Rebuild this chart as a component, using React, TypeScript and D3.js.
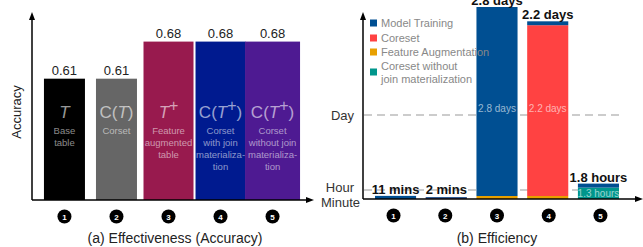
import { useRef, useEffect } from 'react'
import * as d3 from 'd3'

// ---- (a) accuracy ----
const accIds = ['1', '2', '3', '4', '5']
const accValues = [0.61, 0.61, 0.68, 0.68, 0.68]
const accLabels = ['0.61', '0.61', '0.68', '0.68', '0.68']
const accSymbols = ['T', 'C(T)', 'T+', 'C(T+)', 'C(T+)']
const accNotes = [
  ['Base', 'table'],
  ['Corset'],
  ['Feature', 'augmented', 'table'],
  ['Corset', 'with join', 'materializa-', 'tion'],
  ['Corset', 'without join', 'materializa-', 'tion'],
]
const accColors = ['#000000', '#666666', '#981a4e', '#001a8f', '#4e1a92']

// ---- (b) efficiency, minutes ----
const effIds = ['1', '2', '3', '4', '5']
const effKeys = ['fa', 'cwj', 'cs', 'mt']
const effNames = {
  mt: 'Model Training',
  cs: 'Coreset',
  fa: 'Feature Augmentation',
  cwj: 'Coreset without|join materialization',
}
const featAug = [0, 0, 10, 10, 0]
const coresetNoJoin = [0, 0, 0, 0, 78]
const coreset = [0, 1, 0, 3168, 0]
const modelTraining = [11, 1, 4022, 98, 30]
const effTotals = ['11 mins', '2 mins', '2.8 days', '2.2 days', '1.8 hours']
const effInner = [null, null, '2.8 days', '2.2 days', '1.3 hours']
const effInnerKey = [null, null, 'mt', 'cs', 'cwj']
const timeTicks = [
  { label: 'Minute', v: 0 },
  { label: 'Hour', v: 60 },
  { label: 'Day', v: 1440 },
]
const legendOrder = ['mt', 'cs', 'fa', 'cwj']
const effColors = { mt: '#004f92', cs: '#ff4242', fa: '#e8a000', cwj: '#00968c' }

const FONT = "'Liberation Sans', Arial, sans-serif"
const LIGHT = "'Liberation Sans', Arial, sans-serif"

function arrowUp(g, x, y) {
  g.append('path').attr('d', `M${x},${y} L${x - 3},${y + 8} L${x + 3},${y + 8} Z`).attr('fill', '#000')
}
function arrowRight(g, x, y) {
  g.append('path').attr('d', `M${x},${y} L${x - 8},${y - 3} L${x - 8},${y + 3} Z`).attr('fill', '#000')
}
function badge(g, x, y, n) {
  g.append('circle').attr('cx', x).attr('cy', y).attr('r', 7).attr('fill', '#000')
  g.append('text').attr('x', x).attr('y', y + 3).attr('text-anchor', 'middle')
    .attr('fill', '#fff').attr('font-size', '8px').attr('font-weight', 'bold')
    .attr('font-family', FONT).text(n)
}

export default function App() {
  const svgRef = useRef(null)

  useEffect(() => {
    const svg = d3.select(svgRef.current)
    svg.selectAll('*').remove()

    // ================= left panel =================
    const L = svg.append('g')
    const base = 200
    const x = d3.scaleBand().domain(accIds).range([40, 297]).paddingInner(0.06)
    const y = d3.scaleLinear().domain([0.381, 0.70]).range([base, 31])

    accIds.forEach((id, i) => {
      const w = i < 2 ? 41 : i === 4 ? 55 : 50
      const cx = x(id) + x.bandwidth() / 2
      L.append('rect')
        .attr('x', cx - w / 2).attr('width', w)
        .attr('y', y(accValues[i])).attr('height', base - y(accValues[i]))
        .attr('fill', accColors[i])
      L.append('text').attr('x', cx).attr('y', y(accValues[i]) - 4)
        .attr('text-anchor', 'middle').attr('font-size', '13px').attr('fill', '#222')
        .attr('font-family', FONT).text(accLabels[i])

      // symbol
      const sym = L.append('text').attr('x', cx).attr('y', 118)
        .attr('text-anchor', 'middle').attr('font-size', '17px')
        .attr('fill', '#fff').attr('fill-opacity', 0.6).attr('font-family', LIGHT)
      let raised = false
      accSymbols[i].split('').forEach((ch) => {
        const t = sym.append('tspan').text(ch)
        if (ch === 'T') t.attr('font-style', 'italic')
        if (ch === '+') { t.attr('dy', -7).attr('font-size', '16px'); raised = true }
        else if (raised) { t.attr('dy', 7); raised = false }
      })
      accNotes[i].forEach((line, j) => {
        L.append('text').attr('x', cx).attr('y', 134 + j * 12)
          .attr('text-anchor', 'middle').attr('font-size', '9.5px')
          .attr('fill', '#fff').attr('fill-opacity', 0.55).attr('font-family', LIGHT)
          .text(line)
      })
      badge(L, cx, 216.5, id)
    })

    L.append('line').attr('x1', 32).attr('x2', 32).attr('y1', 18).attr('y2', base)
      .attr('stroke', '#000').attr('stroke-width', 1.5)
    arrowUp(L, 32, 12)
    L.append('line').attr('x1', 32).attr('x2', 308).attr('y1', base).attr('y2', base)
      .attr('stroke', '#000').attr('stroke-width', 1.5)
    arrowRight(L, 314, base)

    L.append('text').attr('transform', 'translate(21,112) rotate(-90)')
      .attr('text-anchor', 'middle').attr('font-size', '13px').attr('fill', '#222')
      .attr('font-family', FONT).text('Accuracy')
    L.append('text').attr('x', 175).attr('y', 243).attr('text-anchor', 'middle')
      .attr('font-size', '14px').attr('fill', '#222').attr('font-family', FONT)
      .text('(a) Effectiveness (Accuracy)')

    // ================= right panel =================
    const R = svg.append('g')
    const b2 = 199
    const xb = d3.scaleBand().domain(effIds).range([375, 619]).paddingInner(0.19)
    const yt = d3.scaleLinear()
      .domain([0, 10, 60, 120, 1440, 3240, 4032])
      .range([b2, 196, 190, 182, 115, 22, 7])

    const table = effIds.map((id, i) => ({
      id, fa: featAug[i], cwj: coresetNoJoin[i], cs: coreset[i], mt: modelTraining[i],
    }))
    const stacked = d3.stack().keys(effKeys)(table)

    // dashed reference lines
    ;[60, 1440].forEach((v) => {
      R.append('line').attr('x1', 364).attr('x2', 619).attr('y1', yt(v)).attr('y2', yt(v))
        .attr('stroke', '#999').attr('stroke-width', 1.2).attr('stroke-dasharray', '8,5')
    })

    stacked.forEach((layer) => {
      layer.forEach((d, i) => {
        if (d[1] - d[0] <= 0) return
        const y0 = yt(d[0])
        let y1 = yt(d[1])
        if (y0 - y1 < 1.5) y1 = y0 - 1.5
        R.append('rect').attr('x', xb(effIds[i])).attr('width', xb.bandwidth())
          .attr('y', y1).attr('height', y0 - y1).attr('fill', effColors[layer.key])
      })
    })

    effIds.forEach((id, i) => {
      const cx = xb(id) + xb.bandwidth() / 2
      const top = d3.min(stacked, (l) => yt(l[i][1]))
      R.append('text').attr('x', cx).attr('y', Math.min(top, 196) - 2)
        .attr('text-anchor', 'middle').attr('font-size', '13px').attr('font-weight', 'bold')
        .attr('fill', '#111').attr('font-family', FONT).text(effTotals[i])
      if (effInner[i]) {
        const layer = stacked.find((l) => l.key === effInnerKey[i])
        const ty = effInnerKey[i] === 'cwj' ? yt(layer[i][0]) - 2 : yt(1440) - 3
        R.append('text').attr('x', cx).attr('y', ty).attr('text-anchor', 'middle')
          .attr('font-size', '10px')
          .attr('fill', '#fff').attr('fill-opacity', 0.6).attr('font-family', LIGHT)
          .text(effInner[i])
      }
      badge(R, cx + (i - 2) * 1, 215.5, id)
    })

    R.append('line').attr('x1', 363).attr('x2', 363).attr('y1', 18).attr('y2', b2)
      .attr('stroke', '#000').attr('stroke-width', 1.5)
    arrowUp(R, 363, 12)
    R.append('line').attr('x1', 363).attr('x2', 636).attr('y1', b2).attr('y2', b2)
      .attr('stroke', '#000').attr('stroke-width', 1.5)
    arrowRight(R, 643, b2)

    timeTicks.forEach((t) => {
      const ty = t.label === 'Minute' ? yt(t.v) + 8 : t.label === 'Hour' ? yt(t.v) + 2 : yt(t.v) + 5
      R.append('text').attr('x', t.label === 'Minute' ? 360 : 354).attr('y', ty)
        .attr('text-anchor', 'end').attr('font-size', '13px').attr('fill', '#333')
        .attr('font-family', FONT).text(t.label)
    })

    // legend
    const rowY = [23, 38, 52, 72]
    legendOrder.forEach((k, i) => {
      R.append('rect').attr('x', 370).attr('y', rowY[i] - 3.5).attr('width', 7).attr('height', 7)
        .attr('fill', effColors[k])
      const lines = effNames[k].split('|')
      lines.forEach((ln, j) => {
        const ly = lines.length > 1 ? rowY[i] - 6 + j * 12.5 : rowY[i]
        R.append('text').attr('x', 381).attr('y', ly + 4)
          .attr('font-size', '11px').attr('fill', '#888')
          .attr('font-family', LIGHT).text(ln)
      })
    })

    R.append('text').attr('x', 497).attr('y', 243).attr('text-anchor', 'middle')
      .attr('font-size', '14px').attr('fill', '#222').attr('font-family', FONT)
      .text('(b) Efficiency')
  }, [])

  return (
    <svg ref={svgRef} width={643} height={247}
      style={{ position: 'absolute', left: 0, top: 0, background: '#fff' }} />
  )
}
